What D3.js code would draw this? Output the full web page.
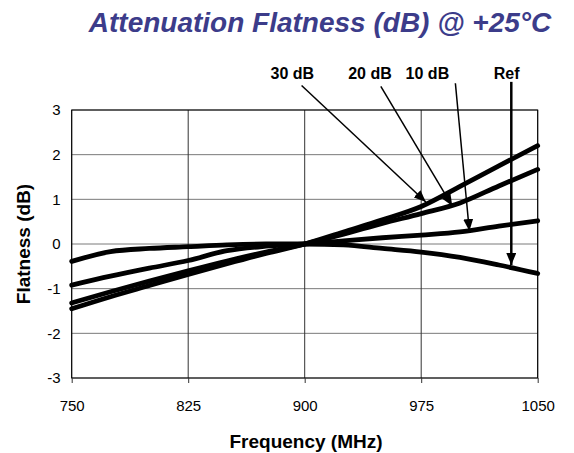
<!DOCTYPE html>
<html>
<head>
<meta charset="utf-8">
<script src="https://cdn.jsdelivr.net/npm/d3@7"></script>
<style>
  body { margin: 0; background: #fff; }
  text { font-family: "Liberation Sans", Arial, sans-serif; }
</style>
</head>
<body>
<svg id="drawing_region"></svg>
<script>
// frequencies (MHz) sampled along the curves
const freqs = [750, 775, 800, 825, 850, 875, 900, 925, 950, 975, 1000, 1025, 1050];

// flatness values (dB) per attenuation setting
const refValues  = [-0.39, -0.17, -0.10, -0.06, -0.02, 0.00, 0, -0.02, -0.10, -0.18, -0.30, -0.47, -0.66];
const db10Values = [-0.92, -0.72, -0.54, -0.37, -0.15, -0.05, 0, 0.07, 0.14, 0.20, 0.27, 0.40, 0.52];
const db20Values = [-1.32, -1.07, -0.83, -0.60, -0.38, -0.18, 0, 0.22, 0.46, 0.68, 0.92, 1.30, 1.67];
const db30Values = [-1.45, -1.18, -0.93, -0.68, -0.44, -0.21, 0, 0.27, 0.54, 0.84, 1.29, 1.75, 2.20];

const seriesNames = ["Ref", "10 dB", "20 dB", "30 dB"];

// annotation arrows: label position and arrow start/tip in data units
const arrowLabelFreq = [1030, 979, 942, 892];
const arrowStartFreq = [1033, 997, 949, 898];
const arrowStartDb   = [3.63, 3.6, 3.53, 3.55];
const arrowTipFreq   = [1033, 1006, 995, 978];
const arrowTipDb     = [-0.47, 0.29, 0.85, 0.94];

const xTicks = [750, 825, 900, 975, 1050];
const yTicks = [-3, -2, -1, 0, 1, 2, 3];

const config = {
    parent: '#drawing_region',
    width: 574,
    height: 453,
    margin: { top: 110, right: 36.3, bottom: 75, left: 71.7 }
};

const svg = d3.select(config.parent)
    .attr('width', config.width)
    .attr('height', config.height);

const innerW = config.width - config.margin.left - config.margin.right;
const innerH = config.height - config.margin.top - config.margin.bottom;

const g = svg.append('g')
    .attr('transform', `translate(${config.margin.left}, ${config.margin.top})`);

const x = d3.scaleLinear().domain([750, 1050]).range([0, innerW]);
const y = d3.scaleLinear().domain([-3, 3]).range([innerH, 0]);

// title
svg.append('text')
    .attr('x', 320)
    .attr('y', 32)
    .attr('text-anchor', 'middle')
    .attr('font-size', '28px')
    .attr('font-weight', 'bold')
    .attr('font-style', 'italic')
    .attr('fill', '#3c3c8a')
    .text('Attenuation Flatness (dB) @ +25°C');

// gridlines
g.append('g')
    .selectAll('line')
    .data(yTicks)
    .enter()
    .append('line')
    .attr('x1', 0).attr('x2', innerW)
    .attr('y1', d => y(d)).attr('y2', d => y(d))
    .attr('stroke', '#7a7a7a')
    .attr('stroke-width', 1);

g.append('g')
    .selectAll('line')
    .data(xTicks)
    .enter()
    .append('line')
    .attr('x1', d => x(d)).attr('x2', d => x(d))
    .attr('y1', 0).attr('y2', innerH)
    .attr('stroke', '#333')
    .attr('stroke-width', 1);

g.append('rect')
    .attr('width', innerW)
    .attr('height', innerH)
    .attr('fill', 'none')
    .attr('stroke', '#000')
    .attr('stroke-width', 1);

// axes
const xAxis = g.append('g')
    .attr('transform', `translate(0, ${innerH})`)
    .call(d3.axisBottom(x).tickValues(xTicks).tickSize(5).tickPadding(17).tickFormat(d => String(d)));
const yAxis = g.append('g')
    .call(d3.axisLeft(y).tickValues(yTicks).tickSize(0).tickPadding(11).tickFormat(d => String(d)));

[xAxis, yAxis].forEach(a => {
    a.select('.domain').remove();
    a.selectAll('text')
        .attr('font-size', '15px')
        .attr('font-family', '"Liberation Sans", Arial, sans-serif')
        .attr('fill', '#000');
    a.selectAll('line').attr('stroke', '#333');
});

svg.append('text')
    .attr('x', 306)
    .attr('y', 448)
    .attr('text-anchor', 'middle')
    .attr('font-size', '19px')
    .attr('font-weight', 'bold')
    .text('Frequency (MHz)');

svg.append('text')
    .attr('transform', `translate(30, 244) rotate(-90)`)
    .attr('text-anchor', 'middle')
    .attr('font-size', '19px')
    .attr('font-weight', 'bold')
    .text('Flatness (dB)');

// curves
const series = [refValues, db10Values, db20Values, db30Values];
const line = d3.line()
    .x((d, i) => x(freqs[i]))
    .y(d => y(d))
    .curve(d3.curveMonotoneX);

g.append('g')
    .selectAll('path')
    .data(series)
    .enter()
    .append('path')
    .attr('d', d => line(d))
    .attr('fill', 'none')
    .attr('stroke', '#000')
    .attr('stroke-width', 4.8)
    .attr('stroke-linecap', 'round')
    .attr('stroke-linejoin', 'round');

// arrows
svg.append('defs').append('marker')
    .attr('id', 'head')
    .attr('viewBox', '0 0 12 10')
    .attr('refX', 12).attr('refY', 5)
    .attr('markerWidth', 12).attr('markerHeight', 10)
    .attr('markerUnits', 'userSpaceOnUse')
    .attr('orient', 'auto')
    .append('path')
    .attr('d', 'M0,0 L12,5 L0,10 Z')
    .attr('fill', '#000');

g.append('g')
    .selectAll('line')
    .data(seriesNames)
    .enter()
    .append('line')
    .attr('x1', (d, i) => x(arrowStartFreq[i]))
    .attr('y1', (d, i) => y(arrowStartDb[i]))
    .attr('x2', (d, i) => x(arrowTipFreq[i]))
    .attr('y2', (d, i) => y(arrowTipDb[i]))
    .attr('stroke', '#000')
    .attr('stroke-width', (d, i) => i === 0 ? 2.5 : 1.5)
    .attr('marker-end', 'url(#head)');

g.append('g')
    .selectAll('text')
    .data(seriesNames)
    .enter()
    .append('text')
    .attr('x', (d, i) => x(arrowLabelFreq[i]))
    .attr('y', -31)
    .attr('text-anchor', 'middle')
    .attr('font-size', '16px')
    .attr('font-weight', 'bold')
    .text(d => d);
</script>
</body>
</html>
